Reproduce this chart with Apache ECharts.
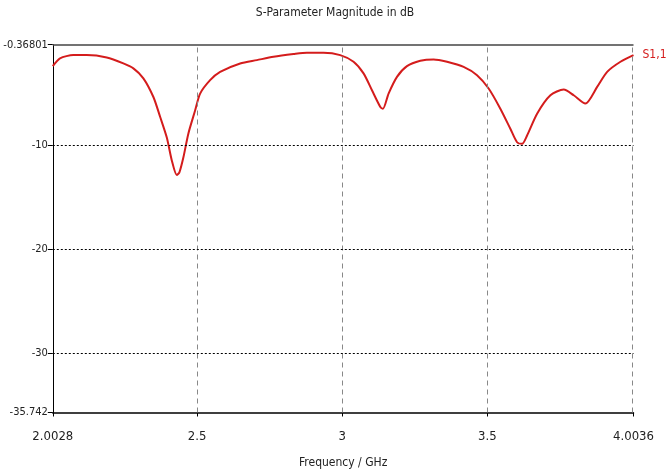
<!DOCTYPE html>
<html><head><meta charset="utf-8">
<script src="https://cdn.jsdelivr.net/npm/echarts@6/dist/echarts.min.js"></script>
<style>html,body{margin:0;padding:0;background:#fff}#c{width:670px;height:472px}</style>
</head><body><div id="c"></div>
<script>
const freq = [2.0028,2.0276,2.0735,2.1197,2.1887,2.2459,2.2804,2.3149,2.3494,2.3725,2.3956,2.4128,2.4300,2.4390,2.4528,2.4700,2.4931,2.5104,2.5448,2.5793,2.6483,2.7059,2.7631,2.8321,2.8783,2.9355,2.9931,3.0390,3.0735,3.1025,3.1314,3.1404,3.1597,3.1887,3.2231,3.2690,3.3149,3.3611,3.4183,3.4645,3.5045,3.5448,3.5793,3.6024,3.6197,3.6369,3.6714,3.7173,3.7631,3.7976,3.8379,3.8783,3.9128,3.9587,4.0036];
const s11 = [-2.43,-1.68,-1.37,-1.37,-1.6,-2.17,-2.65,-3.6,-5.4,-7.3,-9.3,-11.5,-12.9,-12.65,-11.2,-8.9,-6.7,-5.07,-3.78,-2.98,-2.17,-1.85,-1.53,-1.27,-1.14,-1.14,-1.37,-2.01,-3.13,-4.75,-6.36,-6.52,-5.07,-3.46,-2.43,-1.91,-1.78,-2.01,-2.5,-3.3,-4.58,-6.52,-8.45,-9.75,-9.9,-9.1,-7.0,-5.23,-4.68,-5.23,-6.03,-4.43,-2.98,-2.01,-1.37];
const xTicks = [2.0028, 2.5, 3, 3.5, 4.0036];
const yTicks = [-35.742, -30, -20, -10, -0.36801];
const xGrid = [2.5, 3, 3.5, 4.0036];
const yGrid = [-30, -20, -10];
const FONT = "'DejaVu Sans Condensed','Liberation Sans Narrow',sans-serif";
const chart = echarts.init(document.getElementById('c'), null, {renderer:'canvas'});
const data = freq.map((f,i)=>[f, s11[i]]);
chart.setOption({
  animation:false,
  title:{text:'S-Parameter Magnitude in dB', left:'center', top:2,
    textStyle:{fontFamily:FONT, fontSize:12, fontWeight:'normal', color:'#222'}},
  grid:{left:52.8, right:36.5, top:44.7, bottom:59.5, outerBoundsMode:'none', containLabel:false},
  xAxis:{type:'value', min:2.0028, max:4.0036,
    name:'Frequency / GHz', nameLocation:'middle', nameGap:44,
    nameTextStyle:{fontFamily:FONT, fontSize:12, color:'#222'},
    axisLine:{show:true, onZero:false, lineStyle:{color:'#000', width:1.5}},
    axisTick:{show:true, customValues:xTicks, length:4, inside:false, lineStyle:{color:'#000'}},
    axisLabel:{customValues:xTicks, fontFamily:FONT, fontSize:13, color:'#222', margin:18,
      formatter:v=>String(v)},
    splitLine:{show:false}},
  yAxis:{type:'value', min:-35.742, max:-0.36801,
    axisLine:{show:true, onZero:false, lineStyle:{color:'#000', width:1}},
    axisTick:{show:true, customValues:yTicks, length:5, lineStyle:{color:'#000'}},
    axisLabel:{customValues:yTicks, fontFamily:FONT, fontSize:11, color:'#222', margin:5,
      formatter:v=>String(v)},
    splitLine:{show:false}},
  series:[{type:'line', data:data, smooth:0.25, symbol:'none',
    lineStyle:{color:'#d41c1c', width:2},
    endLabel:{show:true, formatter:'S1,1', color:'#d41c1c', fontFamily:FONT, fontSize:12, distance:9},
    markLine:{silent:true, symbol:'none', label:{show:false},
      data:[
        ...xGrid.map(v=>({xAxis:v, lineStyle:{color:'#888', type:[5,4], width:1}})),
        ...yGrid.map(v=>({yAxis:v, lineStyle:{color:'#000', type:[2,2], width:1}})),
        {yAxis:-0.36801, lineStyle:{color:'#444', type:'solid', width:1.5}}
      ]}
  }]
});
</script></body></html>
